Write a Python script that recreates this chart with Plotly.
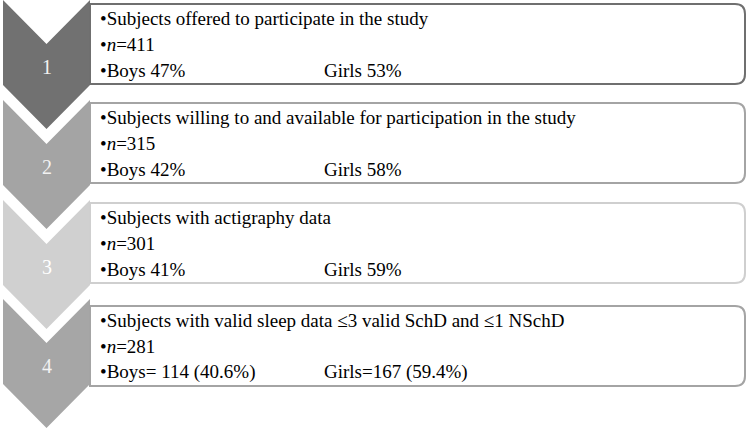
import plotly.graph_objects as go

# ---- data ----
steps = ["1", "2", "3", "4"]
descriptions = [
    "Subjects offered to participate in the study",
    "Subjects willing to and available for participation in the study",
    "Subjects with actigraphy data",
    "Subjects with valid sleep data ≤3 valid SchD and ≤1 NSchD",
]
n_values = [411, 315, 301, 281]
boys_labels = ["Boys 47%", "Boys 42%", "Boys 41%", "Boys= 114 (40.6%)"]
girls_labels = ["Girls 53%", "Girls 58%", "Girls 59%", "Girls=167 (59.4%)"]

# ---- styles ----
chevron_colors = ["#717171", "#a4a4a4", "#d0d0d0", "#a6a6a6"]
box_line_colors = ["#6f6f6f", "#a4a4a4", "#cfcfcf", "#a4a4a4"]
number_colors = ["#f2f2f2", "#f2f2f2", "#ffffff", "#f2f2f2"]
FONT = "Liberation Serif"

W, H = 750, 430
chev_tops = [0, 100, 200, 299]
box_tops = [4, 103, 203, 306]
CH_L, CH_R, CH_DEPTH, CH_H = 3, 90, 44, 129
BOX_L, BOX_R, BOX_H, RAD = 90, 745, 80, 10
GIRLS_X = 322

fig = go.Figure()
shapes = []
annotations = []

for i, step in enumerate(steps):
    t = chev_tops[i]
    m = (CH_L + CH_R) / 2
    path = (f"M {CH_L},{t} L {m},{t + CH_DEPTH} L {CH_R},{t} "
            f"L {CH_R},{t + CH_H - CH_DEPTH} L {m},{t + CH_H} "
            f"L {CH_L},{t + CH_H - CH_DEPTH} Z")
    shapes.append(dict(type="path", path=path, xref="x", yref="y",
                       fillcolor=chevron_colors[i], line=dict(width=0),
                       layer="above"))

    bt = box_tops[i]
    bb = bt + BOX_H
    bpath = (f"M {BOX_L},{bt} L {BOX_R - RAD},{bt} Q {BOX_R},{bt} {BOX_R},{bt + RAD} "
             f"L {BOX_R},{bb - RAD} Q {BOX_R},{bb} {BOX_R - RAD},{bb} "
             f"L {BOX_L},{bb} Z")
    shapes.append(dict(type="path", path=bpath, xref="x", yref="y",
                       fillcolor="white",
                       line=dict(color=box_line_colors[i], width=2),
                       layer="above"))

    annotations.append(dict(x=m, y=t + 67, text=step, showarrow=False,
                            xref="x", yref="y", xanchor="center", yanchor="middle",
                            font=dict(family=FONT, size=20, color=number_colors[i])))

    lines_y = [bt + 14, bt + 40, bt + 66]
    common = dict(showarrow=False, xref="x", yref="y", xanchor="left", yanchor="middle",
                  font=dict(family=FONT, size=19, color="black"))
    annotations.append(dict(x=BOX_L + 8, y=lines_y[0], text="•" + descriptions[i], **common))
    annotations.append(dict(x=BOX_L + 8, y=lines_y[1], text=f"•<i>n</i>={n_values[i]}", **common))
    annotations.append(dict(x=BOX_L + 8, y=lines_y[2], text="•" + boys_labels[i], **common))
    annotations.append(dict(x=GIRLS_X, y=lines_y[2], text=girls_labels[i], **common))

fig.update_layout(
    width=W, height=H,
    margin=dict(l=0, r=0, t=0, b=0),
    paper_bgcolor="white", plot_bgcolor="white",
    xaxis=dict(range=[0, W], visible=False, fixedrange=True),
    yaxis=dict(range=[H, 0], visible=False, fixedrange=True),
    shapes=shapes, annotations=annotations, showlegend=False,
)
fig.write_html("out.html", config={"displayModeBar": False},
               post_script="document.body.style.margin='0';document.body.style.padding='0';")
